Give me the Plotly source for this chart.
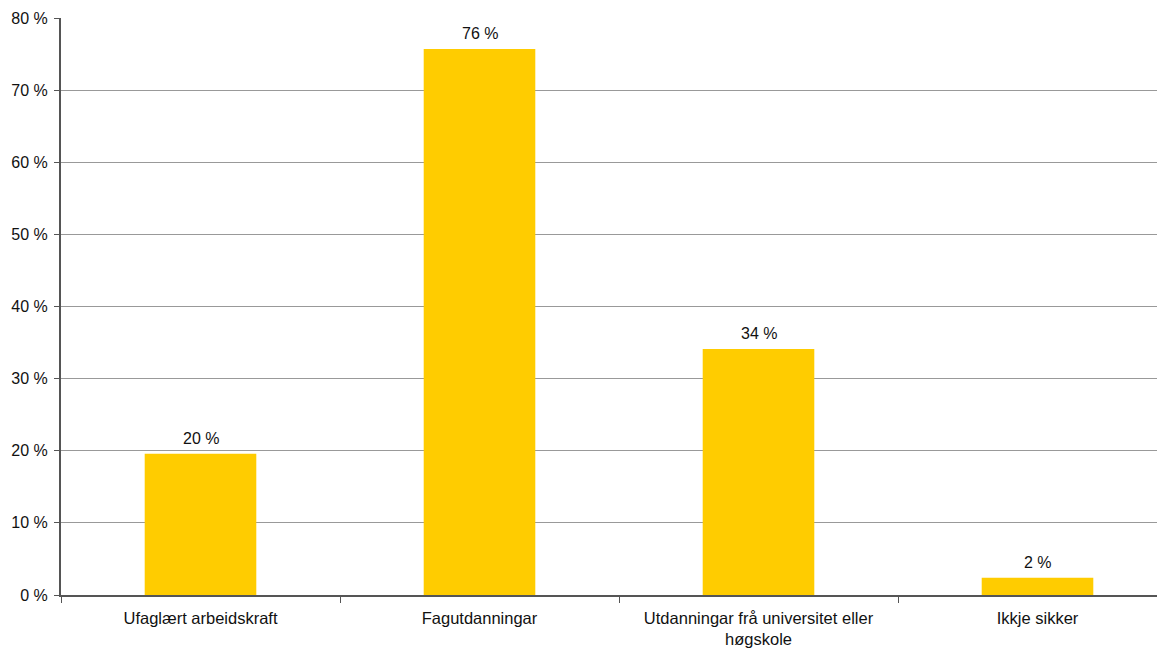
import plotly.graph_objects as go

categories = ["Ufaglært arbeidskraft", "Fagutdanningar",
              "Utdanningar frå universitet eller<br>høgskole", "Ikkje sikker"]
values = [19.6, 75.7, 34.1, 2.4]
y_ticks = [0, 10, 20, 30, 40, 50, 60, 70, 80]
y_tick_labels = [f"{v} %" for v in y_ticks]
FONT = "Liberation Sans, Arial"

fig = go.Figure(go.Bar(
    x=categories, y=values, width=0.4,
    marker=dict(color="#FFCC00", line=dict(width=0)),
    hoverinfo="x+y",
))

for c, v in zip(categories, values):
    fig.add_annotation(x=c, y=v, text=f"{v:.0f} %", showarrow=False,
                       yanchor="bottom", yshift=5,
                       font=dict(family=FONT, size=16, color="#111"))

fig.update_layout(
    width=1157, height=640,
    margin=dict(l=53, r=0, t=10, b=53, autoexpand=False),
    plot_bgcolor="white", paper_bgcolor="white",
    font=dict(family=FONT, size=16, color="#111"),
    showlegend=False,
)
fig.update_xaxes(
    range=[-0.5, 3.457], showgrid=False,
    showline=True, linecolor="#555", linewidth=2,
    ticks="outside", tickson="boundaries", ticklen=6, tickcolor="#555",
    tickfont=dict(size=16.5), ticklabelstandoff=7,
)
fig.update_yaxes(
    range=[0, 80], tickvals=y_ticks, ticktext=y_tick_labels,
    showgrid=True, gridcolor="#999", gridwidth=1,
    showline=True, linecolor="#555", linewidth=2,
    ticks="outside", ticklen=5, tickcolor="#555",
    tickfont=dict(size=16), zeroline=False, ticklabelstandoff=3,
)

fig.write_html("out.html")
